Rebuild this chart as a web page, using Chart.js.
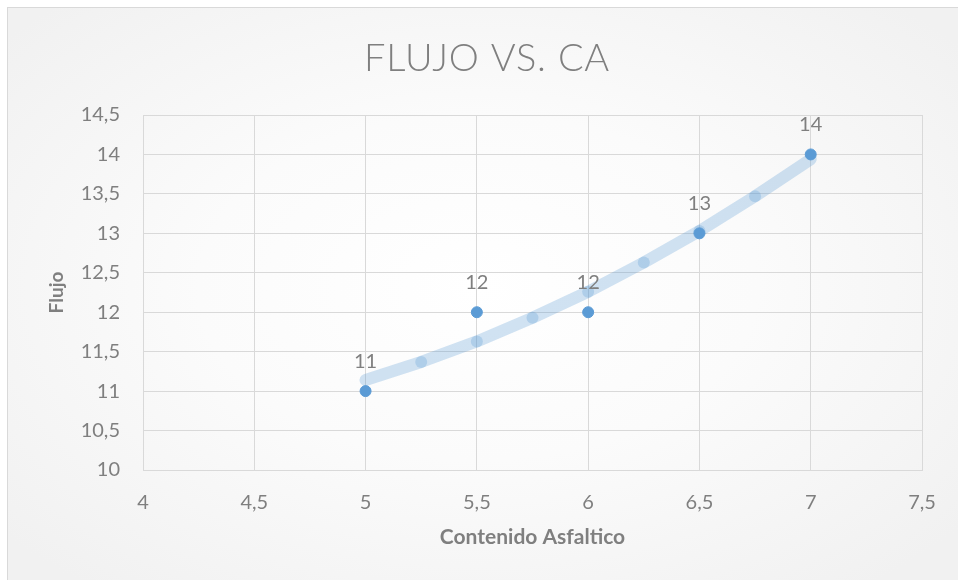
<!DOCTYPE html>
<html>
<head>
<meta charset="utf-8">
<title>Flujo vs. CA</title>
<script src="https://cdn.jsdelivr.net/npm/chart.js@4.4.1/dist/chart.umd.min.js"></script>
<style>
  html, body { margin: 0; padding: 0; background: #ffffff; }
  #wrap { position: relative; width: 958px; height: 580px; overflow: hidden; }
  #panel {
    position: absolute; left: 7px; top: 7px; width: 1000px; height: 620px;
    border-left: 1px solid #d9d9d9; border-top: 1px solid #d9d9d9;
    background: radial-gradient(ellipse 62% 62% at 47% 45%, #ffffff 0%, #fbfbfb 45%, #f1f1f1 100%);
  }
  #c { position: absolute; left: 0; top: 0; }
</style>
</head>
<body>
<div id="wrap">
  <div id="panel"></div>
  <canvas id="c" width="958" height="580"></canvas>
</div>
<script>
// Measured points: asphalt content (%) vs. flow
const contenido = [5, 5.5, 6, 6.5, 7];
const flujo = [11, 12, 12, 13, 14];

// Polynomial trend line, sampled every 0.25 along the curve
const trendX = [5, 5.25, 5.5, 5.75, 6, 6.25, 6.5, 6.75, 7];
const trendY = [11.14, 11.37, 11.63, 11.93, 12.26, 12.63, 13.03, 13.47, 13.94];

// Axis tick labels (comma decimal separator)
const xTickValues = [4, 4.5, 5, 5.5, 6, 6.5, 7, 7.5];
const xTickLabels = ['4', '4,5', '5', '5,5', '6', '6,5', '7', '7,5'];
const yTickValues = [10, 10.5, 11, 11.5, 12, 12.5, 13, 13.5, 14, 14.5];
const yTickLabels = ['10', '10,5', '11', '11,5', '12', '12,5', '13', '13,5', '14', '14,5'];

const chartTitle = 'FLUJO VS. CA';

const FONT = 'Lato, "Open Sans", "DejaVu Sans", sans-serif';
const GRAY = '#7f7f7f';
const BLUE = '#5b9bd5';
const TREND = 'rgba(91,155,213,0.28)';

function labelFor(values, labels, v) {
  const i = values.findIndex(t => Math.abs(t - v) < 1e-9);
  return i >= 0 ? labels[i] : '';
}

// Light, letter-spaced chart title centred on the chart frame
const frameTitle = {
  id: 'frameTitle',
  afterDraw(chart) {
    const ctx = chart.ctx;
    ctx.save();
    ctx.font = '300 38px ' + FONT;
    if ('letterSpacing' in ctx) ctx.letterSpacing = '0.8px';
    ctx.fillStyle = GRAY;
    ctx.textAlign = 'center';
    ctx.textBaseline = 'alphabetic';
    ctx.fillText(chartTitle, 487, 71);
    ctx.restore();
  }
};

// Value labels above each measured point
const valueLabels = {
  id: 'valueLabels',
  afterDatasetsDraw(chart) {
    const meta = chart.getDatasetMeta(0);
    const ctx = chart.ctx;
    ctx.save();
    ctx.font = '20px ' + FONT;
    ctx.fillStyle = GRAY;
    ctx.textAlign = 'center';
    ctx.textBaseline = 'middle';
    meta.data.forEach((pt, i) => {
      ctx.fillText(String(flujo[i]), pt.x, pt.y - 30);
    });
    ctx.restore();
  }
};

new Chart(document.getElementById('c'), {
  type: 'scatter',
  data: {
    datasets: [
      {
        label: 'Flujo',
        data: contenido.map((x, i) => ({ x: x, y: flujo[i] })),
        backgroundColor: BLUE,
        borderColor: BLUE,
        borderWidth: 1,
        pointRadius: 5.5,
        pointHoverRadius: 5.5
      },
      {
        label: 'Tendencia',
        type: 'line',
        data: trendX.map((x, i) => ({ x: x, y: trendY[i] })),
        showLine: true,
        fill: false,
        tension: 0,
        borderColor: TREND,
        borderWidth: 12,
        borderCapStyle: 'round',
        borderJoinStyle: 'round',
        backgroundColor: TREND,
        pointBorderWidth: 0,
        pointRadius: trendX.map((x, i) => (i === 0 || i === trendX.length - 1) ? 0 : 6),
        pointHoverRadius: 0
      }
    ]
  },
  options: {
    responsive: false,
    animation: false,
    events: [],
    layout: { padding: { left: 0, right: 36, top: 115, bottom: 0 } },
    plugins: {
      legend: { display: false },
      tooltip: { enabled: false },
      title: { display: false }
    },
    scales: {
      x: {
        type: 'linear',
        min: 4,
        max: 7.5,
        afterBuildTicks(scale) { scale.ticks = xTickValues.map(v => ({ value: v })); },
        afterFit(scale) { scale.height = 110; },
        grid: { color: '#d9d9d9', lineWidth: 1, drawTicks: false },
        border: { display: true, color: '#d9d9d9' },
        ticks: {
          color: GRAY,
          font: { family: FONT, size: 20 },
          padding: 21,
          maxRotation: 0,
          callback: v => labelFor(xTickValues, xTickLabels, v)
        },
        title: {
          display: true,
          text: 'Contenido Asfaltico',
          color: GRAY,
          font: { family: FONT, size: 21, weight: 'bold', lineHeight: 1.2 },
          padding: { top: 0, bottom: 30 }
        }
      },
      y: {
        type: 'linear',
        min: 10,
        max: 14.5,
        afterBuildTicks(scale) { scale.ticks = yTickValues.map(v => ({ value: v })); },
        afterFit(scale) { scale.width = 143; },
        grid: { color: '#d9d9d9', lineWidth: 1, drawTicks: false },
        border: { display: true, color: '#d9d9d9' },
        ticks: {
          color: GRAY,
          font: { family: FONT, size: 20 },
          padding: 23,
          callback: v => labelFor(yTickValues, yTickLabels, v)
        },
        title: {
          display: true,
          text: 'Flujo',
          color: GRAY,
          font: { family: FONT, size: 19, weight: 'bold', lineHeight: 1.2 },
          padding: { top: 45.6, bottom: 0 }
        }
      }
    }
  },
  plugins: [valueLabels, frameTitle]
});
</script>
</body>
</html>
